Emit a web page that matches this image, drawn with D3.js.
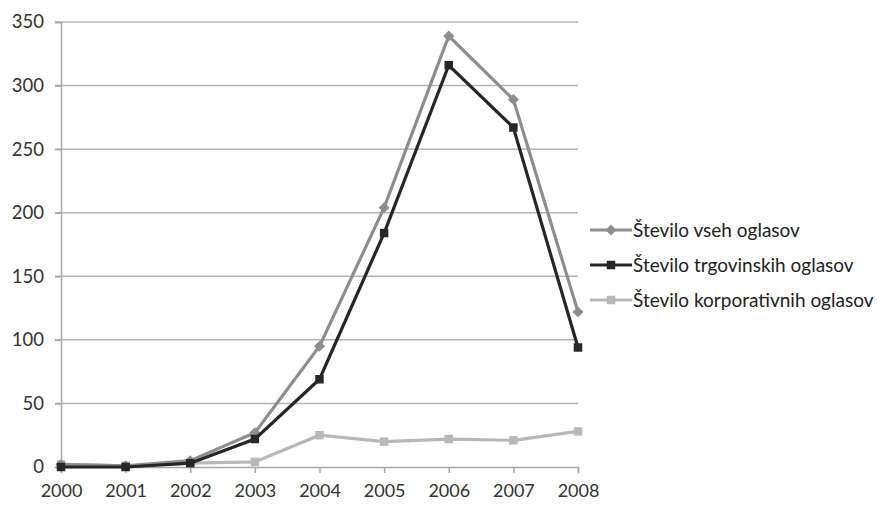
<!DOCTYPE html>
<html><head><meta charset="utf-8">
<script src="https://cdn.jsdelivr.net/npm/d3@7"></script>
<style>body{margin:0;background:#fff}svg{display:block}</style>
</head><body>
<svg id="c" width="877" height="506"></svg>
<script>
const years = ["2000","2001","2002","2003","2004","2005","2006","2007","2008"];
const seriesNames = ["Število vseh oglasov","Število trgovinskih oglasov","Število korporativnih oglasov"];
const allAds = [2, 1, 5, 27, 95, 204, 339, 289, 122];
const tradeAds = [0, 0, 3, 22, 69, 184, 316, 267, 94];
const corpAds = [2, 1, 3, 4, 25, 20, 22, 21, 28];
const yTicks = [0, 50, 100, 150, 200, 250, 300, 350];

(function () {
const series = [
  {name: seriesNames[0], values: allAds, color: "#8e8e8e", marker: "diamond"},
  {name: seriesNames[1], values: tradeAds, color: "#262626", marker: "square"},
  {name: seriesNames[2], values: corpAds, color: "#b8b8b8", marker: "square"}
];

const svg = d3.select("#c");
const font = "Lato, 'Open Sans', sans-serif";
const pl = 61, pr = 578, pt = 22, pb = 467;

const x = d3.scalePoint().domain(years).range([pl, pr]);
const y = d3.scaleLinear().domain([0, 350]).range([pb, pt]);

// gridlines
svg.append("g").selectAll("line").data(yTicks.filter(d => d > 0)).join("line")
  .attr("x1", pl - 6).attr("x2", pr).attr("y1", d => y(d)).attr("y2", d => y(d))
  .attr("stroke", "#b4b4b4").attr("stroke-width", 1.5);

// y axis
const yAxis = svg.append("g").attr("transform", `translate(${pl},0)`)
  .call(d3.axisLeft(y).tickValues(yTicks).tickSize(6).tickPadding(11));
yAxis.select(".domain").attr("stroke", "#a8a8a8").attr("stroke-width", 1.5);
yAxis.selectAll(".tick line").attr("stroke", "#a8a8a8").attr("stroke-width", 1.5);
yAxis.selectAll("text").attr("font-family", font).attr("font-size", 18.5).attr("fill", "#333");

// x axis
const xAxis = svg.append("g").attr("transform", `translate(0,${pb})`)
  .call(d3.axisBottom(x).tickSize(6).tickPadding(11));
xAxis.select(".domain").attr("stroke", "#a8a8a8").attr("stroke-width", 1.5);
xAxis.selectAll(".tick line").attr("stroke", "#a8a8a8").attr("stroke-width", 1.5);
xAxis.selectAll("text").attr("font-family", font).attr("font-size", 18).attr("fill", "#333");

const line = d3.line().x((d, i) => x(years[i])).y(d => y(d));
const square = d3.symbol().type(d3.symbolSquare).size(72);
const diamondSq = d3.symbol().type(d3.symbolSquare).size(60);
const mk = s => s.marker === "diamond" ? diamondSq : square;
const rot = s => s.marker === "diamond" ? " rotate(45)" : "";

// draw order: corporate, all, trade
[series[2], series[0], series[1]].forEach(s => {
  const g = svg.append("g");
  g.append("path").datum(s.values).attr("d", line).attr("fill", "none")
    .attr("stroke", s.color).attr("stroke-width", 3.2);
  g.selectAll("path.m").data(s.values).join("path").attr("class", "m")
    .attr("transform", (d, i) => `translate(${x(years[i])},${y(d)})` + rot(s))
    .attr("d", mk(s))
    .attr("fill", s.color);
});

// legend
const legY = [230, 265, 300];
series.forEach((s, i) => {
  const g = svg.append("g").attr("transform", `translate(590,${legY[i]})`);
  g.append("line").attr("x1", 0).attr("x2", 42).attr("stroke", s.color).attr("stroke-width", 3.2);
  g.append("path").attr("transform", "translate(21,0)" + rot(s))
    .attr("d", mk(s)).attr("fill", s.color);
  g.append("text").attr("x", 43).attr("y", 0).attr("dy", "0.35em")
    .attr("font-family", font).attr("font-size", 19).attr("fill", "#222").text(s.name);
});
})();
</script>
</body></html>
